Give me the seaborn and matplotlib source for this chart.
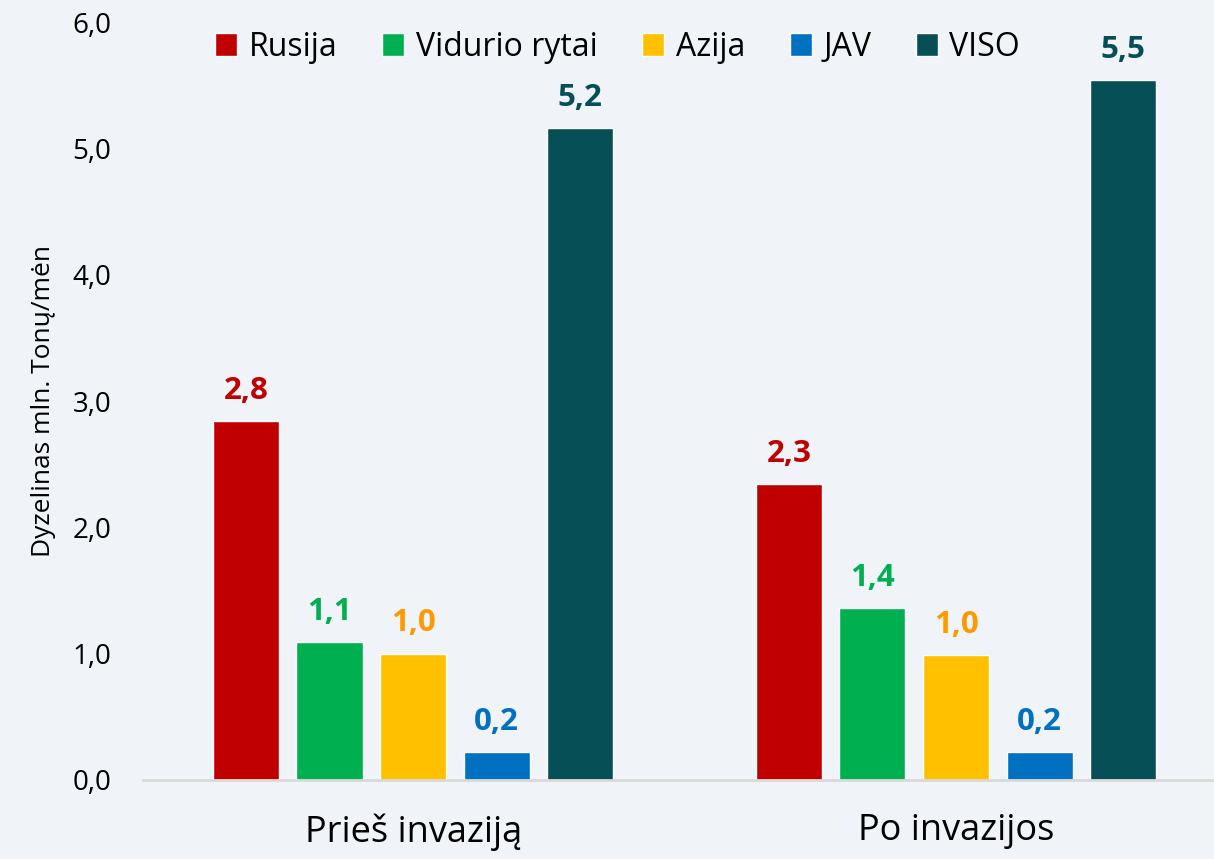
import pandas as pd
import numpy as np
import matplotlib.pyplot as plt
import seaborn as sns

# data
periods = ["Prieš invaziją", "Po invazijos"]
regions = ["Rusija", "Vidurio rytai", "Azija", "JAV", "VISO"]
before = [2.84, 1.09, 1.00, 0.22, 5.16]
after = [2.34, 1.36, 0.99, 0.22, 5.54]

bar_colors = ["#C00000", "#00B050", "#FFC000", "#0070C0", "#074F57"]
label_colors = ["#C00000", "#00B050", "#FF9900", "#0070C0", "#074F57"]
bg = "#F0F4F8"

df = pd.DataFrame({
    "period": [periods[0]] * 5 + [periods[1]] * 5,
    "region": regions * 2,
    "value": before + after,
})

sns.set_style("white")
plt.rcParams['font.family'] = ['Open Sans', 'DejaVu Sans']
plt.rcParams['text.color'] = 'black'
plt.rcParams['xtick.color'] = 'black'
plt.rcParams['ytick.color'] = 'black'
plt.rcParams['axes.labelcolor'] = 'black'

fig = plt.figure(figsize=(12.14, 8.59), dpi=100, facecolor=bg)
ax = fig.add_axes([0.118, 0.092, 0.882, 0.882], facecolor=bg)

sns.barplot(data=df, x="period", y="value", hue="region", hue_order=regions,
            palette=bar_colors, width=0.77, gap=0.21, saturation=1,
            ax=ax, legend=True)

# value labels
for cont, col in zip(ax.containers, label_colors):
    ax.bar_label(cont, labels=[f"{v:.1f}".replace(".", ",") for v in cont.datavalues],
                 padding=11, color=col, fontsize=22.5, fontweight="bold")

ax.set_ylim(0, 6)
ax.set_xlim(-0.497, 1.475)
ax.set_yticks(np.arange(0, 6.1, 1))
ax.set_yticklabels([f"{t:.1f}".replace(".", ",") for t in np.arange(0, 6.1, 1)])
ax.tick_params(axis="y", length=0, pad=23, labelsize=20)
ax.tick_params(axis="x", length=0, pad=24, labelsize=26)
ax.set_xlabel("")
ax.set_ylabel("Dyzelinas mln. Tonų/mėn", fontsize=19, labelpad=12)

for s in ["top", "right", "left"]:
    ax.spines[s].set_visible(False)
ax.spines["bottom"].set_color("#D9D9D9")
ax.spines["bottom"].set_linewidth(2)

leg = ax.legend(loc="center", bbox_to_anchor=(0.443, 0.967), ncol=5, frameon=False,
                fontsize=23, handlelength=0.7, handleheight=0.7,
                handletextpad=0.35, columnspacing=1.4)

plt.savefig("out.png", dpi=100, facecolor=bg)
